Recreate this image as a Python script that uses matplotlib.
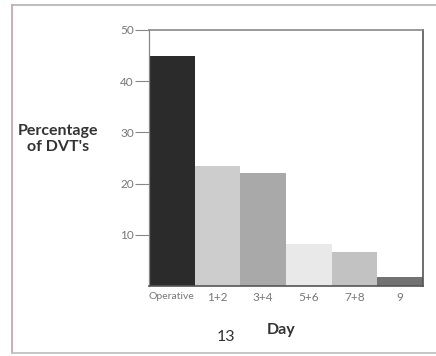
import matplotlib.pyplot as plt
from matplotlib.lines import Line2D

days = ["Operative", "1+2", "3+4", "5+6", "7+8", "9"]
dvt_pct = [45, 23.5, 22, 8.3, 6.7, 1.8]
bar_colors = ["#2b2b2b", "#cdcdcd", "#a9a9a9", "#e9e9e9", "#c2c2c2", "#727272"]
y_ticks = [10, 20, 30, 40, 50]

plt.rcParams["font.family"] = ["Lato", "DejaVu Sans"]

W, H = 436, 356
fig = plt.figure(figsize=(W / 100, H / 100), dpi=100)
fig.patch.set_facecolor("white")

# page border (top, left, bottom)
px = lambda x, y: (x / W, 1 - y / H)
for (x0, y0), (x1, y1), c in [((12, 4.5), (436, 4.5), "#b8b8b8"),
                              ((12, 4.5), (12, 353), "#c8a8b0"),
                              ((12, 353), (436, 353), "#c0c0c0")]:
    a, b = px(x0, y0), px(x1, y1)
    fig.add_artist(Line2D([a[0], b[0]], [a[1], b[1]], color=c, lw=1.3,
                          transform=fig.transFigure))

ax = fig.add_axes([149 / W, 1 - 286 / H, (423 - 149) / W, (286 - 30) / H])
x = range(len(days))
ax.bar(x, dvt_pct, width=1.0, color=bar_colors, edgecolor="none")
ax.set_xlim(-0.5, len(days) - 0.5)
ax.set_ylim(0, 50)

ax.set_yticks(y_ticks)
ax.set_yticklabels([str(v) for v in y_ticks], fontsize=8.5, color="#777777")
ax.tick_params(axis="y", direction="out", length=10, width=0.8, color="#888888", pad=1)
ax.set_xticks(list(x))
ax.set_xticklabels(days, color="#777777")
for i, lbl in enumerate(ax.get_xticklabels()):
    lbl.set_fontsize(7.5 if i == 0 else 8.5)
ax.tick_params(axis="x", length=0, pad=4)

for side in ["left", "bottom", "top", "right"]:
    ax.spines[side].set_color("#555555")
    ax.spines[side].set_linewidth(1.2)
ax.spines["left"].set_color("#888888")
ax.spines["left"].set_linewidth(0.9)
ax.spines["top"].set_color("#888888")

fig.text(58 / W, 1 - 139 / H, "Percentage\nof DVT's", ha="center", va="center",
         fontsize=11.5, fontweight="bold", color="#333333", linespacing=1.25)
fig.text(281 / W, 1 - 330 / H, "Day", ha="center", va="center",
         fontsize=11.5, fontweight="bold", color="#333333")
fig.text(226 / W, 1 - 337 / H, "13", ha="center", va="center",
         fontsize=11.5, color="#333333")

fig.savefig("out.png", dpi=100, facecolor="white")
